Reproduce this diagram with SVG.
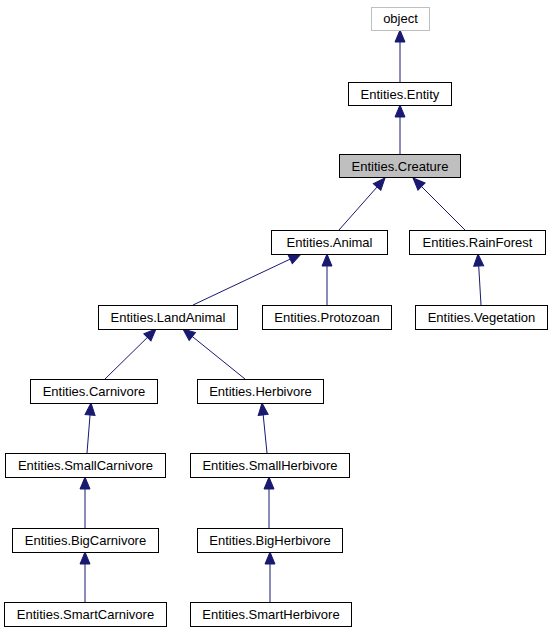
<svg xmlns="http://www.w3.org/2000/svg" width="553" height="635" viewBox="0 0 553 635">
<style>
.n rect{fill:#ffffff;stroke:#000000;stroke-width:1}
.n text{font-family:"Liberation Sans",Arial,sans-serif;font-size:13px;text-anchor:middle;fill:#000000}
#edges line{stroke:#191970;stroke-width:1;marker-end:url(#arr)}
</style>
<defs>
<marker id="arr" viewBox="-1 -6 14 12" refX="12" refY="0" markerWidth="14" markerHeight="12" markerUnits="userSpaceOnUse" orient="auto">
<path d="M0,-5 L12,0 L0,5 z" fill="#191970" stroke="#191970" stroke-width="1"/>
</marker>
</defs>
<rect width="553" height="635" fill="#ffffff"/>
<g id="edges">
<line x1="400" y1="82" x2="400" y2="30"/>
<line x1="400" y1="154" x2="400" y2="105"/>
<line x1="339" y1="230" x2="385" y2="178"/>
<line x1="465" y1="230" x2="413" y2="178"/>
<line x1="327" y1="305" x2="327" y2="254"/>
<line x1="481" y1="305" x2="478" y2="254"/>
<line x1="193" y1="305" x2="301" y2="254"/>
<line x1="105" y1="379" x2="156" y2="329"/>
<line x1="245" y1="379" x2="183" y2="329"/>
<line x1="87" y1="453" x2="91" y2="403"/>
<line x1="267" y1="453" x2="262" y2="403"/>
<line x1="85" y1="528" x2="85" y2="477"/>
<line x1="269" y1="528" x2="269" y2="477"/>
<line x1="85" y1="603" x2="85" y2="552"/>
<line x1="270" y1="603" x2="270" y2="552"/>
</g>
<g id="object" class="n"><rect x="371.5" y="7.5" width="58" height="23" style="stroke:#bfbfbf"/><text x="400.5" y="23">object</text></g>
<g id="entity" class="n"><rect x="348.5" y="82.5" width="103" height="23"/><text x="400" y="98.5">Entities.Entity</text></g>
<g id="creature" class="n"><rect x="339.5" y="154.5" width="121" height="23" style="fill:#bfbfbf"/><text x="400" y="170.5">Entities.Creature</text></g>
<g id="animal" class="n"><rect x="271.5" y="230.5" width="116" height="24"/><text x="329.5" y="247">Entities.Animal</text></g>
<g id="rainforest" class="n"><rect x="409.5" y="230.5" width="136" height="24"/><text x="477.5" y="247">Entities.RainForest</text></g>
<g id="landanimal" class="n"><rect x="98.5" y="305.5" width="139" height="24"/><text x="168" y="322">Entities.LandAnimal</text></g>
<g id="protozoan" class="n"><rect x="262.5" y="305.5" width="129" height="24"/><text x="327" y="322">Entities.Protozoan</text></g>
<g id="vegetation" class="n"><rect x="415.5" y="305.5" width="132" height="24"/><text x="481.5" y="322">Entities.Vegetation</text></g>
<g id="carnivore" class="n"><rect x="30.5" y="379.5" width="127" height="24"/><text x="94" y="396">Entities.Carnivore</text></g>
<g id="herbivore" class="n"><rect x="197.5" y="379.5" width="126" height="24"/><text x="260.5" y="396">Entities.Herbivore</text></g>
<g id="smallcarnivore" class="n"><rect x="5.5" y="453.5" width="160" height="24"/><text x="85.5" y="470">Entities.SmallCarnivore</text></g>
<g id="smallherbivore" class="n"><rect x="190.5" y="453.5" width="159" height="24"/><text x="270" y="470">Entities.SmallHerbivore</text></g>
<g id="bigcarnivore" class="n"><rect x="12.5" y="528.5" width="146" height="24"/><text x="85.5" y="545">Entities.BigCarnivore</text></g>
<g id="bigherbivore" class="n"><rect x="197.5" y="528.5" width="145" height="24"/><text x="270" y="545">Entities.BigHerbivore</text></g>
<g id="smartcarnivore" class="n"><rect x="4.5" y="602.5" width="162" height="24"/><text x="85.5" y="619">Entities.SmartCarnivore</text></g>
<g id="smartherbivore" class="n"><rect x="190.5" y="602.5" width="161" height="24"/><text x="271" y="619">Entities.SmartHerbivore</text></g>
</svg>
